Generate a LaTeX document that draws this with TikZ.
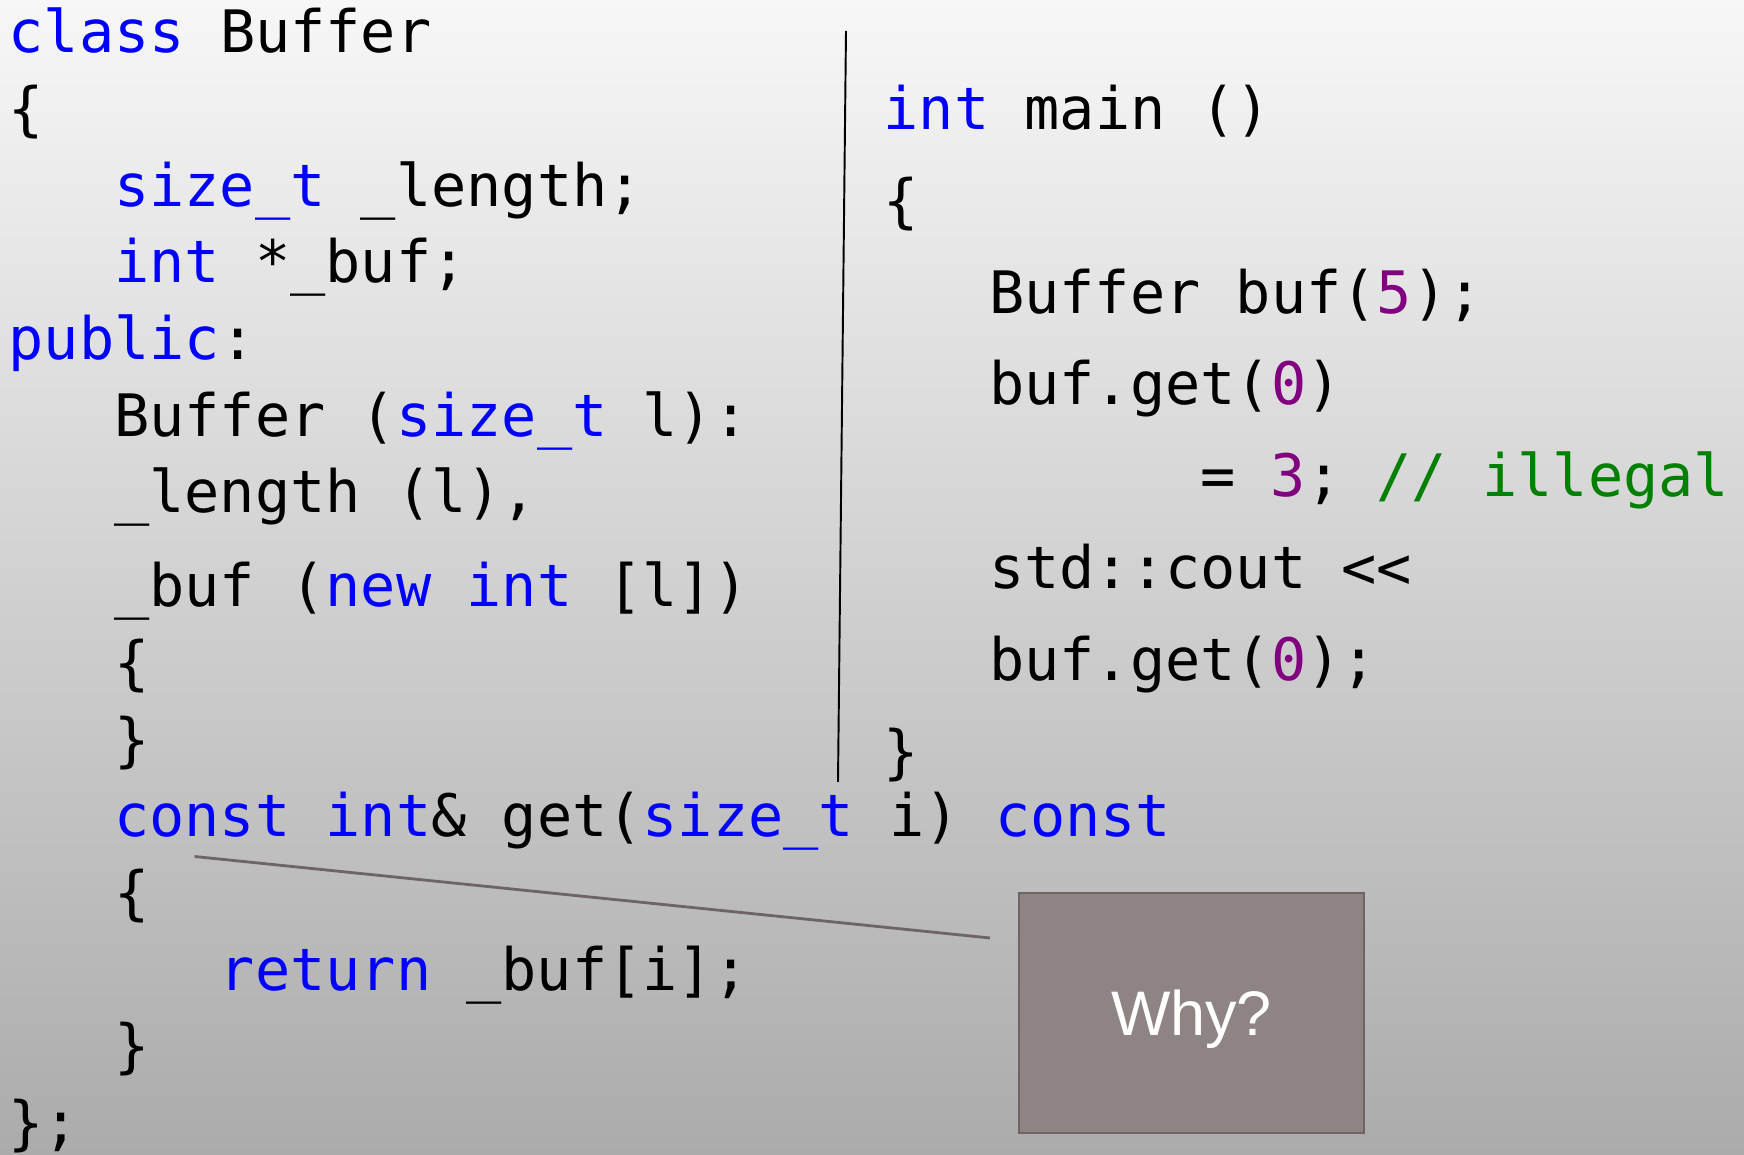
\documentclass[tikz,border=0pt]{standalone}
\usepackage{fontspec}
\setmainfont{Liberation Sans}
\setmonofont{DejaVu Sans Mono}
\usepackage{tikz}

\definecolor{kwblue}{HTML}{0000FF}
\definecolor{numpurple}{HTML}{800080}
\definecolor{cmtgreen}{HTML}{008000}
\definecolor{bgtop}{HTML}{F7F7F7}
\definecolor{bgmid}{HTML}{DADADA}
\definecolor{bgbot}{HTML}{ABABAB}
\definecolor{boxfill}{HTML}{8E8483}
\definecolor{boxline}{HTML}{6E6465}

\newcommand{\kwd}[1]{\textcolor{kwblue}{#1}}
\newcommand{\nlit}[1]{\textcolor{numpurple}{#1}}
\newcommand{\ccmt}[1]{\textcolor{cmtgreen}{#1}}

\tikzset{
	codeline/.style={anchor=base west, inner sep=0pt, font=\fontsize{16.64}{20}\selectfont\ttfamily},
	whybox/.style={draw=boxline, fill=boxfill, line width=0.6pt, minimum width=3.45cm, minimum height=2.4cm, text depth=0pt, text=white, font=\fontsize{17.9}{21}\selectfont}
}

\begin{document}
\begin{tikzpicture}[x=0.01cm, y=-0.01cm]
	
	\useasboundingbox (0, 0) rectangle (1744, 1155);
	\shade[top color=bgtop, middle color=bgmid, bottom color=bgbot] (0, 0) rectangle (1744, 1155);
	
	\node[codeline] (l1)  at (8, 52.7)      {\kwd{class} Buffer};
	\node[codeline] (l2)  at (8, 129.4)     {\{};
	\node[codeline] (l3)  at (113.6, 206.1) {\kwd{size\_t} \_length;};
	\node[codeline] (l4)  at (113.6, 282.8) {\kwd{int} *\_buf;};
	\node[codeline] (l5)  at (8, 359.5)     {\kwd{public}:};
	\node[codeline] (l6)  at (113.6, 436.2) {Buffer (\kwd{size\_t} l):};
	\node[codeline] (l7)  at (113.6, 512.9) {\_length (l),};
	\node[codeline] (l8)  at (113.6, 606.7) {\_buf (\kwd{new} \kwd{int} [l])};
	\node[codeline] (l9)  at (113.6, 683.4) {\{};
	\node[codeline] (l10) at (113.6, 760.1) {\}};
	\node[codeline] (l11) at (113.6, 836.8) {\kwd{const} \kwd{int}\& get(\kwd{size\_t} i) \kwd{const}};
	\node[codeline] (l12) at (113.6, 913.5) {\{};
	\node[codeline] (l13) at (219.2, 990.2) {\kwd{return} \_buf[i];};
	\node[codeline] (l14) at (113.6, 1066.9) {\}};
	\node[codeline] (l15) at (8, 1143.6)    {\};};
	
	\node[codeline] (m1) at (883, 129.5)    {\kwd{int} main ()};
	\node[codeline] (m2) at (883, 221.3)    {\{};
	\node[codeline] (m3) at (988.6, 313.1)  {Buffer buf(\nlit{5});};
	\node[codeline] (m4) at (988.6, 404.9)  {buf.get(\nlit{0})};
	\node[codeline] (m5) at (1199.8, 496.7) {= \nlit{3}; \ccmt{// illegal}};
	\node[codeline] (m6) at (988.6, 588.5)  {std::cout <<};
	\node[codeline] (m7) at (988.6, 680.3)  {buf.get(\nlit{0});};
	\node[codeline] (m8) at (883, 772.1)    {\}};
	
	\node[whybox] (why) at (1191.5, 1012.7) {Why?};
	
	\coordinate (septop) at (846, 31);
	\coordinate (sepbot) at (838, 782);
	\coordinate (getref) at (194.6, 856.5);
	\coordinate (whyref) at (990, 938);
	
	\path[-, line width=0.55pt] (septop) edge (sepbot);
	\path[-, draw=boxline, line width=0.8pt] (getref) edge (whyref);
	
\end{tikzpicture}
\end{document}
